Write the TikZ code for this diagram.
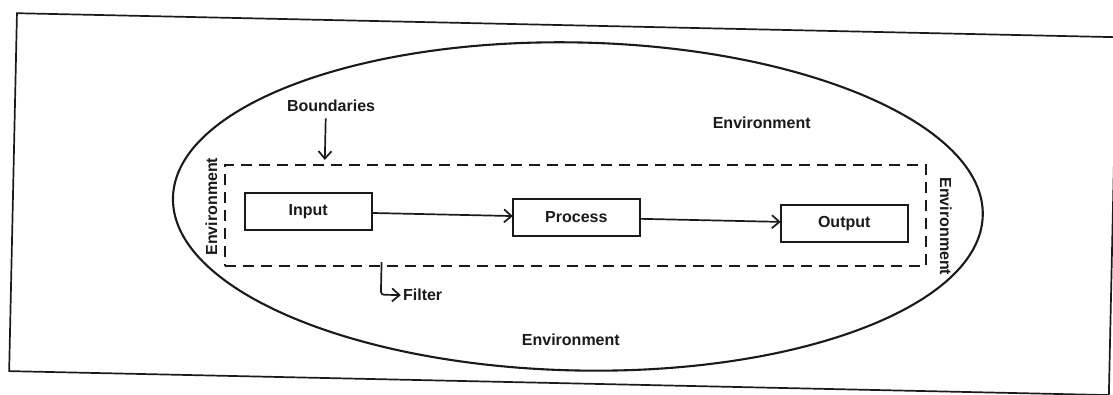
\documentclass[tikz,border=0pt]{standalone}
\usepackage{fontspec}
\setmainfont{Liberation Sans}
\usetikzlibrary{arrows.meta}
\definecolor{ink}{HTML}{1A1A1A}
\begin{document}
\begin{tikzpicture}[x=1pt,y=-1pt,
  frame/.style={draw=ink, line width=1.7pt},
  envline/.style={draw=ink, line width=2.1pt},
  stage/.style={draw=ink, line width=1.8pt, minimum width=127pt, minimum height=37pt,
    inner sep=0pt, outer sep=0pt, font=\fontsize{16}{18}\selectfont\bfseries, text=ink},
  lbl/.style={font=\fontsize{16}{18}\selectfont\bfseries, text=ink, inner sep=0pt},
  sysbound/.style={draw=ink, line width=2.1pt, dash pattern=on 11pt off 7pt,
    minimum width=701pt, minimum height=101pt, inner sep=0pt, outer sep=0pt},
  arr/.style={draw=ink, line width=1.7pt, -{Straight Barb[length=7.5pt,width=13pt]}},
]
\useasboundingbox[fill=white] (0,0) rectangle (1113,394);
\clip (0,0) rectangle (1113,394);
\begin{scope}[rotate around={-1.25:(556,200)}]
  % page frame
  \draw[frame] (13,25) rectangle (1113,383);
  % environment ellipse
  \draw[envline] (578,206) ellipse [x radius=405, y radius=164];
  % system boundary
  \node[sysbound] (sys) at (575.5,215.5) {};
  % stages
  \node[stage] (in)  at (308.5,217) {Input};
  \node[stage] (pr)  at (576.7,217) {Process};
  \node[stage] (out) at (844.7,217) {Output};
  \draw[arr] (in) -- (pr);
  \draw[arr] (pr) -- (out);
  % boundaries label
  \node[lbl, anchor=base west] (bnd) at (285,117) {Boundaries};
  \coordinate (bndtip) at (324,165);
  \draw[arr] ([yshift=-7pt]bnd.south -| bndtip) -- (bndtip);
  % filter
  \coordinate (ftop) at (383,266);
  \node[lbl, anchor=west] (flt) at (405,298.5) {Filter};
  \draw[arr, rounded corners=3pt] (ftop) |- ([xshift=-2pt]flt.west);
  % environment labels
  \node[lbl, anchor=base west] (envT) at (711,124.6) {Environment};
  \node[lbl, anchor=base] (envB) at (574,344.7) {Environment};
  \node[lbl, rotate=90, anchor=base] (envL) at (217.4,214) {Environment};
  \node[lbl, rotate=-90, anchor=base] (envR) at (940.6,218) {Environment};
\end{scope}
\end{tikzpicture}
\end{document}
